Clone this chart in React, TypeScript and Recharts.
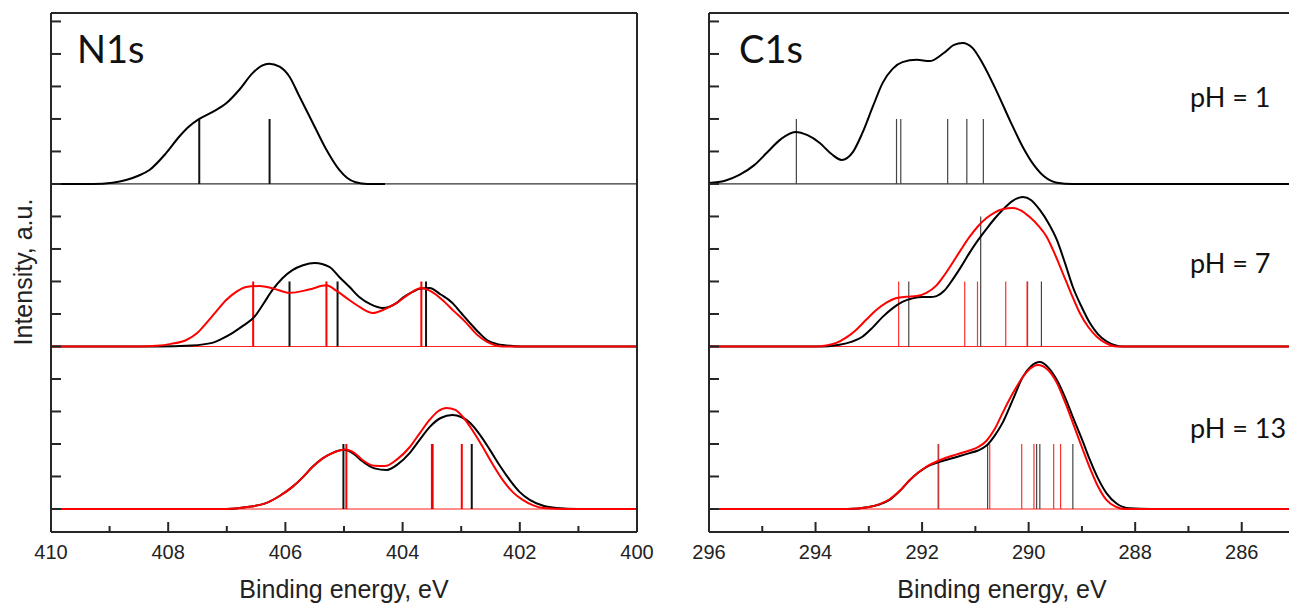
import React from "react";
import { LineChart, Line, XAxis, YAxis, ReferenceLine } from "recharts";

// spectra: [binding energy, intensity above the panel baseline]
const N1S_PH1_BLACK: [number, number][] = [
  [410, 0], [409.29, 0], [408.95, 0.04], [408.72, 0.12], [408.5, 0.26], [408.32, 0.43],
  [408.04, 0.94], [407.81, 1.46], [407.65, 1.76], [407.47, 2.0], [407.24, 2.22],
  [407.01, 2.48], [406.79, 2.89], [406.56, 3.41], [406.4, 3.64], [406.28, 3.7],
  [406.1, 3.61], [405.93, 3.3], [405.76, 2.69], [405.53, 1.87], [405.3, 1.05],
  [405.08, 0.43], [404.95, 0.19], [404.8, 0.05], [404.6, 0], [404.3, 0],
];
const N1S_PH7_BLACK: [number, number][] = [
  [410, 0], [408.2, 0], [407.6, 0.03], [407.25, 0.11], [407.08, 0.24], [406.9, 0.42],
  [406.72, 0.64], [406.53, 0.91], [406.38, 1.3], [406.22, 1.74], [406.05, 2.1],
  [405.88, 2.35], [405.7, 2.5], [405.5, 2.57], [405.25, 2.45], [405.08, 2.14],
  [404.9, 1.82], [404.74, 1.52], [404.55, 1.3], [404.34, 1.18], [404.1, 1.34],
  [403.98, 1.52], [403.83, 1.68], [403.7, 1.78], [403.54, 1.8], [403.35, 1.6],
  [403.15, 1.34], [403.0, 1.03], [402.85, 0.72], [402.7, 0.43], [402.56, 0.2],
  [402.4, 0.08], [402.22, 0.03], [401.95, 0], [400, 0],
];
const N1S_PH7_RED: [number, number][] = [
  [410, 0], [408.5, 0], [408.2, 0.02], [407.95, 0.08], [407.69, 0.2], [407.5, 0.42],
  [407.35, 0.72], [407.18, 1.08], [407.01, 1.43], [406.84, 1.68], [406.67, 1.83],
  [406.44, 1.86], [406.2, 1.78], [405.93, 1.65], [405.6, 1.75], [405.3, 1.88],
  [405.12, 1.7], [404.91, 1.43], [404.72, 1.2], [404.51, 1.03], [404.3, 1.15],
  [404.1, 1.34], [403.9, 1.6], [403.68, 1.8], [403.5, 1.68], [403.32, 1.43],
  [403.12, 1.08], [402.91, 0.72], [402.74, 0.38], [402.56, 0.14], [402.42, 0.04],
  [402.29, 0], [400, 0],
];
const N1S_PH13_BLACK: [number, number][] = [
  [410, 0], [407.0, 0], [406.65, 0.06], [406.33, 0.18], [406.1, 0.4], [405.88, 0.68],
  [405.7, 0.98], [405.54, 1.29], [405.37, 1.55], [405.2, 1.72], [404.99, 1.82],
  [404.84, 1.7], [404.68, 1.46], [404.48, 1.25], [404.27, 1.2], [404.08, 1.38],
  [403.88, 1.72], [403.7, 2.15], [403.54, 2.52], [403.35, 2.8], [403.15, 2.89],
  [403.0, 2.83], [402.85, 2.65], [402.68, 2.28], [402.51, 1.82], [402.34, 1.33],
  [402.17, 0.89], [402.0, 0.52], [401.83, 0.28], [401.6, 0.1], [401.37, 0.03],
  [401.0, 0], [400, 0],
];
const N1S_PH13_RED: [number, number][] = [
  [410, 0], [407.0, 0], [406.65, 0.06], [406.33, 0.18], [406.1, 0.4], [405.88, 0.68],
  [405.7, 0.98], [405.54, 1.29], [405.37, 1.55], [405.2, 1.72], [404.97, 1.83],
  [404.82, 1.72], [404.68, 1.5], [404.48, 1.33], [404.3, 1.32], [404.1, 1.52],
  [403.88, 1.9], [403.7, 2.35], [403.54, 2.74], [403.4, 3.0], [403.25, 3.11],
  [403.1, 3.05], [402.97, 2.83], [402.8, 2.4], [402.63, 1.9], [402.46, 1.37],
  [402.29, 0.89], [402.12, 0.52], [401.95, 0.28], [401.78, 0.12], [401.6, 0.03],
  [401.2, 0], [400, 0],
];

const C1S_PH1_BLACK: [number, number][] = [
  [296, 0.03], [295.7, 0.1], [295.43, 0.28], [295.15, 0.58], [294.92, 0.95], [294.65, 1.38],
  [294.38, 1.6], [294.15, 1.5], [293.92, 1.26], [293.7, 0.92], [293.51, 0.74],
  [293.3, 0.98], [293.12, 1.57], [292.92, 2.4], [292.74, 3.11], [292.55, 3.55],
  [292.37, 3.75], [292.1, 3.82], [291.86, 3.78], [291.6, 4.02], [291.4, 4.28],
  [291.24, 4.34], [291.05, 4.18], [290.86, 3.7], [290.6, 2.85], [290.35, 1.95],
  [290.11, 1.14], [289.9, 0.58], [289.7, 0.22], [289.47, 0.04], [289.17, 0], [285, 0],
];
const C1S_PH7_BLACK: [number, number][] = [
  [296, 0], [294.0, 0], [293.75, 0.01], [293.55, 0.05], [293.33, 0.14], [293.12, 0.3],
  [292.93, 0.58], [292.74, 0.91], [292.55, 1.18], [292.37, 1.37], [292.18, 1.48],
  [291.99, 1.52], [291.85, 1.52], [291.73, 1.55], [291.58, 1.72], [291.43, 2.05],
  [291.27, 2.45], [291.11, 2.88], [290.95, 3.27], [290.79, 3.62], [290.64, 3.93],
  [290.49, 4.2], [290.3, 4.48], [290.11, 4.6], [289.95, 4.5], [289.79, 4.2],
  [289.63, 3.8], [289.47, 3.28], [289.32, 2.58], [289.17, 1.83], [289.0, 1.2],
  [288.85, 0.72], [288.7, 0.38], [288.54, 0.16], [288.38, 0.04], [288.23, 0], [285, 0],
];
const C1S_PH7_RED: [number, number][] = [
  [296, 0], [294.0, 0], [293.8, 0.03], [293.61, 0.11], [293.42, 0.28], [293.24, 0.51],
  [293.05, 0.82], [292.86, 1.12], [292.67, 1.35], [292.48, 1.49], [292.3, 1.53],
  [292.1, 1.55], [291.92, 1.65], [291.73, 1.88], [291.58, 2.2], [291.43, 2.57],
  [291.27, 2.98], [291.11, 3.37], [290.95, 3.7], [290.79, 3.95], [290.64, 4.12],
  [290.49, 4.22], [290.3, 4.26], [290.14, 4.18], [289.98, 3.98], [289.82, 3.72],
  [289.66, 3.37], [289.51, 2.85], [289.36, 2.26], [289.2, 1.62], [289.04, 1.03],
  [288.88, 0.6], [288.72, 0.3], [288.55, 0.1], [288.35, 0], [285, 0],
];
const C1S_PH13_BLACK: [number, number][] = [
  [296, 0], [293.4, 0], [293.0, 0.06], [292.8, 0.14], [292.61, 0.28], [292.42, 0.55],
  [292.23, 0.89], [292.07, 1.12], [291.92, 1.29], [291.67, 1.45], [291.35, 1.6],
  [291.11, 1.72], [290.95, 1.8], [290.79, 1.95], [290.64, 2.25], [290.49, 2.65],
  [290.3, 3.35], [290.11, 4.06], [289.95, 4.4], [289.79, 4.52], [289.63, 4.35],
  [289.47, 3.97], [289.32, 3.45], [289.17, 2.83], [289.0, 2.15], [288.85, 1.51],
  [288.7, 0.95], [288.54, 0.49], [288.35, 0.17], [288.1, 0.02], [287.7, 0], [285, 0],
];
const C1S_PH13_RED: [number, number][] = [
  [296, 0], [293.4, 0], [293.0, 0.06], [292.8, 0.15], [292.61, 0.3], [292.42, 0.56],
  [292.23, 0.89], [292.07, 1.12], [291.92, 1.3], [291.67, 1.5], [291.35, 1.68],
  [291.11, 1.8], [290.95, 1.9], [290.79, 2.1], [290.64, 2.45], [290.49, 2.95],
  [290.3, 3.55], [290.11, 4.06], [289.97, 4.32], [289.83, 4.43], [289.65, 4.3],
  [289.47, 3.88], [289.32, 3.3], [289.17, 2.65], [289.0, 1.9], [288.85, 1.26],
  [288.7, 0.7], [288.54, 0.28], [288.38, 0.08], [288.2, 0], [285, 0],
];

// calculated lines: [energy, height]
const N1S_PH1_STICKS_BLACK: [number, number][] = [[407.47, 2], [406.27, 2]];
const N1S_PH7_STICKS_BLACK: [number, number][] = [[405.93, 2], [405.11, 2], [403.6, 2]];
const N1S_PH7_STICKS_RED: [number, number][] = [[406.55, 2], [405.3, 2], [403.68, 2]];
const N1S_PH13_STICKS_BLACK: [number, number][] = [[405.01, 2], [403.49, 2], [402.82, 2]];
const N1S_PH13_STICKS_RED: [number, number][] = [[404.96, 2], [403.5, 2], [402.99, 2]];

const C1S_PH1_STICKS_BLACK: [number, number][] = [
  [294.36, 2], [292.48, 2], [292.4, 2], [291.52, 2], [291.16, 2], [290.85, 2],
];
const C1S_PH7_STICKS_BLACK: [number, number][] = [[292.25, 2], [290.9, 4], [290.02, 2], [289.76, 2]];
const C1S_PH7_STICKS_RED: [number, number][] = [[292.44, 2], [291.2, 2], [290.96, 2], [290.43, 2], [290.03, 2]];
const C1S_PH13_STICKS_BLACK: [number, number][] = [[291.69, 2], [290.77, 2], [289.85, 2], [289.79, 2], [289.17, 2]];
const C1S_PH13_STICKS_RED: [number, number][] = [[291.7, 2], [290.73, 2], [290.13, 2], [289.9, 2], [289.53, 2], [289.4, 2]];

// vertical offsets of the three stacked spectra (pH 1, 7, 13)
const OFFSETS = [10, 5, 0];
const Y_TICKS = [0, 1, 2, 3, 4, 5, 6, 7, 8, 9, 10, 11, 12, 13, 14, 15];
const N1S_TICKS = [400, 401, 402, 403, 404, 405, 406, 407, 408, 409, 410];
const C1S_TICKS = [285, 286, 287, 288, 289, 290, 291, 292, 293, 294, 295, 296];
const PH_LABELS = ["pH = 1", "pH = 7", "pH = 13"];

const AXIS = "#262626";
const TICK_FONT = "'Liberation Sans', Arial, sans-serif";

const toPts = (arr: [number, number][], off: number) => arr.map(([x, y]) => ({ x, y: y + off }));

const XTick = (props: any) => {
  const { x, y, payload } = props;
  const major = payload.value % 2 === 0;
  return (
    <g>
      <line x1={x} x2={x} y1={y} y2={y - (major ? 10 : 6)} stroke={AXIS} strokeWidth={2} />
      {major && (
        <text x={x} y={y + 27} textAnchor="middle" fontSize={20} fill="#222" fontFamily={TICK_FONT}>
          {payload.value}
        </text>
      )}
    </g>
  );
};

const YTick = (props: any) => {
  const { x, y } = props;
  return <line x1={x} x2={x + 10} y1={y} y2={y} stroke={AXIS} strokeWidth={2} />;
};

type Spec = {
  black: [number, number][];
  red?: [number, number][];
  sticksBlack: [number, number][];
  sticksRed?: [number, number][];
};

function Spectra({
  width,
  domain,
  ticks,
  specs,
  stickWidth,
  stickBlack,
  stickRed,
}: {
  width: number;
  domain: [number, number];
  ticks: number[];
  specs: Spec[];
  stickWidth: number;
  stickBlack: string;
  stickRed: string;
}) {
  // plot area: x 51..637 (586 px), y 13..532
  const right = width - 51 - 586 - 1;
  return (
    <LineChart width={width} height={603} margin={{ top: 12, right, bottom: 70, left: 50 }}>
      <XAxis
        dataKey="x"
        type="number"
        domain={domain}
        reversed
        ticks={ticks}
        interval={0}
        tickSize={0}
        tickMargin={0}
        height={1}
        tick={<XTick />}
        tickLine={false}
        axisLine={{ stroke: AXIS, strokeWidth: 2 }}
        allowDataOverflow
      />
      <XAxis
        xAxisId="top"
        orientation="top"
        dataKey="x"
        type="number"
        domain={domain}
        reversed
        height={1}
        tick={false}
        tickLine={false}
        axisLine={{ stroke: AXIS, strokeWidth: 2 }}
        allowDataOverflow
      />
      <YAxis
        type="number"
        domain={[-0.708, 15.26]}
        ticks={Y_TICKS}
        interval={0}
        width={1}
        tickSize={0}
        tickMargin={0}
        tick={<YTick />}
        tickLine={false}
        axisLine={{ stroke: AXIS, strokeWidth: 2 }}
        allowDataOverflow
      />
      <YAxis
        yAxisId="right"
        orientation="right"
        type="number"
        domain={[-0.708, 15.26]}
        width={1}
        tick={false}
        tickLine={false}
        axisLine={{ stroke: AXIS, strokeWidth: 2 }}
        allowDataOverflow
      />
      {specs.map((s, i) => (
        <ReferenceLine key={`base-${i}`} y={OFFSETS[i]} stroke={s.red ? "#ff2020" : "#333"} strokeWidth={1.2} />
      ))}
      {specs.flatMap((s, i) =>
        s.sticksBlack.map(([e, h], j) => (
          <ReferenceLine
            key={`sb-${i}-${j}`}
            segment={[{ x: e, y: OFFSETS[i] }, { x: e, y: OFFSETS[i] + h }]}
            stroke={stickBlack}
            strokeWidth={stickWidth}
          />
        ))
      )}
      {specs.flatMap((s, i) =>
        (s.sticksRed || []).map(([e, h], j) => (
          <ReferenceLine
            key={`sr-${i}-${j}`}
            segment={[{ x: e, y: OFFSETS[i] }, { x: e, y: OFFSETS[i] + h }]}
            stroke={stickRed}
            strokeWidth={stickWidth}
          />
        ))
      )}
      {specs.map((s, i) => (
        <Line
          key={`b-${i}`}
          data={toPts(s.black, OFFSETS[i])}
          dataKey="y"
          type="monotone"
          stroke="#000"
          strokeWidth={2}
          dot={false}
          isAnimationActive={false}
        />
      ))}
      {specs.map((s, i) =>
        s.red ? (
          <Line
            key={`r-${i}`}
            data={toPts(s.red, OFFSETS[i])}
            dataKey="y"
            type="monotone"
            stroke="#ff0000"
            strokeWidth={2}
            dot={false}
            isAnimationActive={false}
          />
        ) : null
      )}
    </LineChart>
  );
}

const N1S_SPECS: Spec[] = [
  { black: N1S_PH1_BLACK, sticksBlack: N1S_PH1_STICKS_BLACK },
  { black: N1S_PH7_BLACK, red: N1S_PH7_RED, sticksBlack: N1S_PH7_STICKS_BLACK, sticksRed: N1S_PH7_STICKS_RED },
  { black: N1S_PH13_BLACK, red: N1S_PH13_RED, sticksBlack: N1S_PH13_STICKS_BLACK, sticksRed: N1S_PH13_STICKS_RED },
];
const C1S_SPECS: Spec[] = [
  { black: C1S_PH1_BLACK, sticksBlack: C1S_PH1_STICKS_BLACK },
  { black: C1S_PH7_BLACK, red: C1S_PH7_RED, sticksBlack: C1S_PH7_STICKS_BLACK, sticksRed: C1S_PH7_STICKS_RED },
  { black: C1S_PH13_BLACK, red: C1S_PH13_RED, sticksBlack: C1S_PH13_STICKS_BLACK, sticksRed: C1S_PH13_STICKS_RED },
];

export default function App() {
  const labelFont = "Lato, 'Open Sans', sans-serif";
  return (
    <div style={{ position: "fixed", left: 0, top: 0, width: 1289, height: 603, overflow: "hidden", background: "#fff" }}>
      <div style={{ position: "absolute", left: 0, top: 0 }}>
        <Spectra width={660} domain={[400, 410]} ticks={N1S_TICKS} specs={N1S_SPECS} stickWidth={2} stickBlack="#111" stickRed="#ff0000" />
      </div>
      <div style={{ position: "absolute", left: 658, top: 0 }}>
        <Spectra width={700} domain={[285, 296]} ticks={C1S_TICKS} specs={C1S_SPECS} stickWidth={1.2} stickBlack="#444" stickRed="#ff3030" />
      </div>
      <svg width={1289} height={603} style={{ position: "absolute", left: 0, top: 0, pointerEvents: "none" }}>
        <text x={77} y={63} fontSize={38} fontFamily={labelFont} fill="#111">N1s</text>
        <text x={739} y={63} fontSize={38} fontFamily={labelFont} fill="#111">C1s</text>
        {PH_LABELS.map((t, i) => (
          <text key={t} x={1190} y={[107, 273, 438][i]} fontSize={27} fontFamily={labelFont} fill="#111">
            {t}
          </text>
        ))}
        <text x={344} y={598} textAnchor="middle" fontSize={25} fontFamily={TICK_FONT} fill="#222">
          Binding energy, eV
        </text>
        <text x={1002} y={598} textAnchor="middle" fontSize={25} fontFamily={TICK_FONT} fill="#222">
          Binding energy, eV
        </text>
        <text
          x={32}
          y={272}
          transform="rotate(-90 32 272)"
          textAnchor="middle"
          fontSize={25}
          fontFamily={TICK_FONT}
          fill="#222"
        >
          Intensity, a.u.
        </text>
      </svg>
    </div>
  );
}
